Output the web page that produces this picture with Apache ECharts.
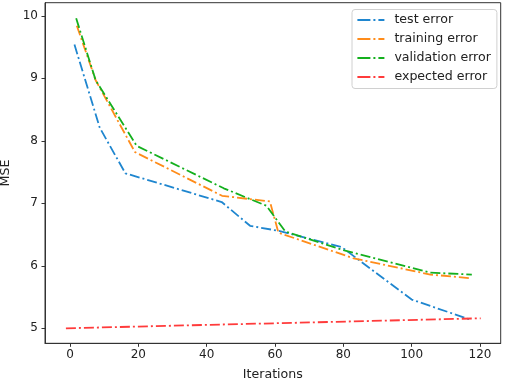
<!DOCTYPE html>
<html>
<head>
<meta charset="utf-8">
<script src="https://cdn.jsdelivr.net/npm/echarts@6/dist/echarts.min.js"></script>
<style>
html,body{margin:0;padding:0;background:#fff;}
#chart{width:505px;height:383px;}
</style>
</head>
<body>
<div id="chart"></div>
<script>
var testIter = [1.3, 8.7, 16.2, 44.4, 52.7, 61, 79.5, 100, 117.6];
var testErr = [9.54, 8.21, 7.48, 7.02, 6.64, 6.56, 6.30, 5.46, 5.13];
var trainIter = [2, 7.5, 19, 44.5, 58.5, 61, 83, 105.5, 117.6];
var trainErr = [9.84, 8.97, 7.82, 7.12, 7.03, 6.53, 6.12, 5.86, 5.80];
var valIter = [1.8, 7.5, 19.5, 45, 57.5, 63, 80, 105.5, 117.6];
var valErr = [9.96, 8.97, 7.92, 7.24, 6.96, 6.55, 6.25, 5.89, 5.86];
var expIter = [-1.2, 120.2];
var expErr = [5.0, 5.16];
var xTicks = [0, 20, 40, 60, 80, 100, 120];
var yTicks = [5, 6, 7, 8, 9, 10];
var names = ['test error', 'training error', 'validation error', 'expected error'];
var colors = ['#1f86cf', '#ff8c1a', '#14b01e', '#ff3b3b'];

function pairs(xs, ys) { return xs.map(function (x, i) { return [x, ys[i]]; }); }
var dash = [10, 3, 2, 3];
var font = 'DejaVu Sans';
function mk(i, xs, ys) {
  return {
    name: names[i], type: 'line', data: pairs(xs, ys), symbol: 'none',
    lineStyle: { color: colors[i], width: 1.8, type: dash },
    itemStyle: { color: colors[i] }, z: 3 + i, animation: false
  };
}
var chart = echarts.init(document.getElementById('chart'), null, { renderer: 'canvas' });
chart.setOption({
  animation: false,
  grid: { left: 45, right: 4.3, top: 2.7, bottom: 39.7, show: true, borderColor: '#333', borderWidth: 1, containLabel: false, outerBoundsMode: 'none' },
  legend: {
    orient: 'vertical', left: 352, top: 9.5,
    padding: [3.5, 6, 4.5, 4.5], itemGap: 5,
    itemWidth: 27, itemHeight: 8,
    borderColor: '#d0d0d0', borderWidth: 1, borderRadius: 3,
    backgroundColor: '#fff',
    itemStyle: { opacity: 0 },
    lineStyle: { type: [13, 3, 2, 3], width: 1.8 },
    textStyle: { fontFamily: font, fontSize: 12.6, color: '#222', lineHeight: 14, padding: [0, 0, 0, 5] },
    data: names
  },
  xAxis: {
    type: 'value', min: -7.32, max: 126.05,
    name: 'Iterations', nameLocation: 'middle', nameGap: 25,
    nameTextStyle: { fontFamily: font, fontSize: 12.6, color: '#222' },
    axisLine: { show: true, onZero: false, lineStyle: { color: '#333' } },
    axisTick: { show: true, inside: false, length: 3.5, customValues: xTicks, lineStyle: { color: '#333' } },
    axisLabel: { customValues: xTicks, margin: 6, fontFamily: font, fontSize: 12, color: '#222' },
    splitLine: { show: false }
  },
  yAxis: {
    type: 'value', min: 4.76, max: 10.21,
    name: 'MSE', nameLocation: 'middle', nameGap: 30, nameRotate: 90,
    nameTextStyle: { fontFamily: font, fontSize: 12.6, color: '#222' },
    axisLine: { show: true, onZero: false, lineStyle: { color: '#333' } },
    axisTick: { show: true, inside: false, length: 3.5, customValues: yTicks, lineStyle: { color: '#333' } },
    axisLabel: { customValues: yTicks, margin: 7, fontFamily: font, fontSize: 12, color: '#222' },
    splitLine: { show: false }
  },
  series: [
    mk(0, testIter, testErr),
    mk(1, trainIter, trainErr),
    mk(2, valIter, valErr),
    mk(3, expIter, expErr)
  ]
});
</script>
</body>
</html>
